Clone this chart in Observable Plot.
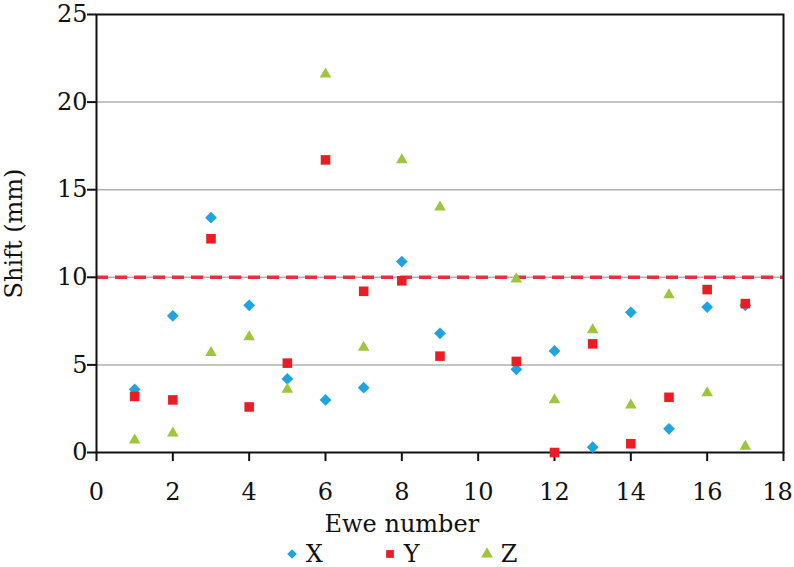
<!DOCTYPE html>
<html>
<head>
<meta charset="utf-8">
<script src="https://cdn.jsdelivr.net/npm/d3@7"></script>
<script src="https://cdn.jsdelivr.net/npm/@observablehq/plot@0.6"></script>
<style>
  html, body { margin: 0; padding: 0; background: #fff; }
  #chart { width: 794px; height: 567px; overflow: hidden; }
  #chart svg { overflow: visible; }
  .lg-swatches { justify-content: center; padding-left: 8px; height: 28px; min-height: 28px !important; margin: 0 !important; line-height: 1; font-family: "DejaVu Serif" !important; font-size: 24px !important; color: #111; }
  .lg-swatch { margin-right: 60px !important; }
  .lg-swatch:last-child { margin-right: 0 !important; }
  .lg-swatch > svg { margin-right: 7px !important; }
</style>
</head>
<body>
<div id="chart"></div>
<script>
// Ewe numbers (no measurement for ewe 10)
const ewes = [1, 2, 3, 4, 5, 6, 7, 8, 9, 11, 12, 13, 14, 15, 16, 17];
// Shift (mm) per axis
const shiftX = [3.6, 7.8, 13.4, 8.4, 4.2, 3.0, 3.7, 10.9, 6.8, 4.75, 5.8, 0.3, 8.0, 1.35, 8.3, 8.4];
const shiftY = [3.2, 3.0, 12.2, 2.6, 5.1, 16.7, 9.2, 9.8, 5.5, 5.2, 0.0, 6.2, 0.5, 3.15, 9.3, 8.5];
const shiftZ = [0.7, 1.1, 5.7, 6.6, 3.6, 21.6, 6.0, 16.7, 14.0, 9.9, 3.0, 7.0, 2.7, 9.0, 3.4, 0.35];

const seriesNames = ["X", "Y", "Z"];
const seriesValues = [shiftX, shiftY, shiftZ];
const seriesColors = ["#1ea4e1", "#ec1c24", "#9dc63a"];
const seriesSymbols = ["diamond2", "square", "triangle"];
const seriesRadius = [5.3, 5.4, 4.3];

const xTicks = [0, 2, 4, 6, 8, 10, 12, 14, 16, 18];
const yTicks = [0, 5, 10, 15, 20, 25];
const gridLines = [5, 10, 15, 20];
const threshold = [10];
const xMax = 18;

const xLabel = "Ewe number";
const yLabel = "Shift (mm)";
const xLabelCenter = 8;

const rows = seriesNames.map((s, i) =>
  ewes.map((e, j) => ({ewe: e, shift: seriesValues[i][j], series: s}))
);

const chart = Plot.plot({
  width: 794,
  height: 540,
  marginLeft: 96,
  marginRight: 11,
  marginTop: 14,
  marginBottom: 88,
  style: {fontFamily: "DejaVu Serif", fontSize: "24px", color: "#111", background: "#fff", overflow: "visible"},
  x: {domain: [0, xMax]},
  y: {domain: [0, 25]},
  color: {domain: seriesNames, range: seriesColors},
  symbol: {domain: seriesNames, range: seriesSymbols},
  marks: [
    Plot.ruleY(gridLines, {stroke: "#b0b0b0", strokeWidth: 1.5}),
    Plot.ruleY(threshold, {stroke: "#e8303a", strokeWidth: 3.5, strokeDasharray: "12,7"}),
    Plot.frame({stroke: "#111", strokeWidth: 2}),
    Plot.axisX(xTicks, {tickSize: 9, tickPadding: 21, strokeWidth: 2, label: null, tickFormat: d => d === xMax ? null : d}),
    Plot.axisX([xMax], {tickSize: 0, tickPadding: 30, dx: -6, label: null}),
    Plot.axisY(yTicks, {tickSize: 9, tickPadding: 0, strokeWidth: 2, label: null}),
    ...rows.map((data, i) =>
      Plot.dot(data, {x: "ewe", y: "shift", fill: "series", symbol: "series", r: seriesRadius[i], stroke: null})
    ),
    Plot.text([xLabel], {x: () => xLabelCenter, frameAnchor: "bottom", dy: 72, lineAnchor: "middle", textAnchor: "middle", text: d => d, fill: "#111"}),
    Plot.text([yLabel], {frameAnchor: "left", rotate: -90, dx: -82, lineAnchor: "middle", textAnchor: "middle", text: d => d, fill: "#111"})
  ]
});

const container = document.getElementById("chart");
container.appendChild(chart);
const legend = chart.legend("symbol", {className: "lg", swatchSize: 14, r: 5});
if (legend) container.appendChild(legend);
</script>
</body>
</html>
